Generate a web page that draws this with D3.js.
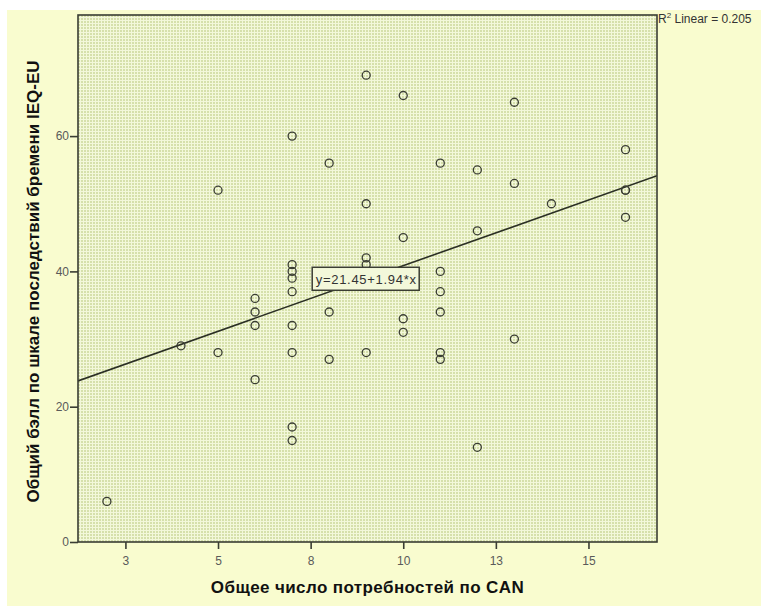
<!DOCTYPE html>
<html>
<head>
<meta charset="utf-8">
<script src="https://cdn.jsdelivr.net/npm/d3@7"></script>
<style>
  body { margin: 0; background: #fff; }
  svg { display: block; }
</style>
</head>
<body>
<svg id="chart" width="761" height="608"></svg>
<script>
// needs counts (CAN) and burden score (IEQ-EU)
const canTotal = [2, 4, 5, 5, 6, 6, 6, 6,
  7, 7, 7, 7, 7, 7, 7, 7, 7,
  8, 8, 8, 9, 9, 9, 9, 9,
  10, 10, 10, 10, 11, 11, 11, 11, 11, 11,
  12, 12, 12, 13, 13, 13, 14, 16, 16, 16, 16];
const ieqScore = [6, 29, 52, 28, 36, 34, 32, 24,
  60, 41, 40, 39, 37, 32, 28, 17, 15,
  56, 34, 27, 69, 50, 42, 41, 28,
  66, 45, 33, 31, 56, 40, 37, 34, 28, 27,
  55, 46, 14, 65, 53, 30, 50, 58, 52, 52, 48];

const xTickValues = [2.5, 5, 7.5, 10, 12.5, 15];
const xTickLabels = ['3', '5', '8', '10', '13', '15'];
const yTickValues = [0, 20, 40, 60];

const fitIntercept = 21.45;
const fitSlope = 1.94;
const rSquared = 0.205;

const xTitle = 'Общее число потребностей по CAN';
const yTitle = 'Общий бэлл по шкале последствий бремени IEQ-EU';

const font = 'Liberation Sans, Arial, sans-serif';

const svg = d3.select('#chart'),
      margin = { top: 15, right: 104, bottom: 66, left: 78 },
      width = +svg.attr('width') - margin.left - margin.right,
      height = +svg.attr('height') - margin.top - margin.bottom;

// page background
svg.append('rect')
  .attr('x', 7)
  .attr('y', 10)
  .attr('width', 754)
  .attr('height', 596)
  .attr('fill', '#f9fccf');

const defs = svg.append('defs');
const pattern = defs.append('pattern')
  .attr('id', 'dots')
  .attr('patternUnits', 'userSpaceOnUse')
  .attr('width', 3)
  .attr('height', 3);
pattern.append('rect')
  .attr('width', 3)
  .attr('height', 3)
  .attr('fill', '#f3f8da');
pattern.append('rect')
  .attr('width', 2)
  .attr('height', 2)
  .attr('fill', '#d6e0ab');

defs.append('clipPath')
  .attr('id', 'clip')
  .append('rect')
  .attr('width', width)
  .attr('height', height);

const x = d3.scaleLinear()
  .domain([1.22, 16.85])
  .range([0, width]);
const y = d3.scaleLinear()
  .domain([0, 77.9])
  .range([height, 0]);

const g = svg.append('g')
  .attr('transform', `translate(${margin.left}, ${margin.top})`);

g.append('rect')
  .attr('width', width)
  .attr('height', height)
  .attr('fill', 'url(#dots)');

// fit line
const fit = (v) => fitIntercept + fitSlope * v;
g.append('line')
  .attr('clip-path', 'url(#clip)')
  .attr('x1', x(x.domain()[0]))
  .attr('y1', y(fit(x.domain()[0])))
  .attr('x2', x(x.domain()[1]))
  .attr('y2', y(fit(x.domain()[1])))
  .attr('stroke', '#2b2f24')
  .attr('stroke-width', 1.6);

// points
g.append('g')
  .selectAll('circle')
  .data(canTotal.map((d, i) => [d, ieqScore[i]]))
  .enter().append('circle')
  .attr('cx', (d) => x(d[0]))
  .attr('cy', (d) => y(d[1]))
  .attr('r', 4)
  .attr('fill', 'none')
  .attr('stroke', '#3a3d33')
  .attr('stroke-width', 1.3);

// equation label on the line
const eqX = 9;
const eq = g.append('g')
  .attr('transform', `translate(${x(eqX)}, ${y(fit(eqX))})`);
eq.append('rect')
  .attr('x', -54)
  .attr('y', -11.5)
  .attr('width', 107)
  .attr('height', 23)
  .attr('fill', '#f3f8da')
  .attr('stroke', '#3a3d33')
  .attr('stroke-width', 1.5);
eq.append('text')
  .attr('x', 0)
  .attr('y', 5)
  .attr('text-anchor', 'middle')
  .attr('font-family', font)
  .attr('font-size', 13)
  .attr('letter-spacing', 0.7)
  .attr('fill', '#333')
  .text(`y=${fitIntercept}+${fitSlope}*x`);

// frame
g.append('rect')
  .attr('width', width)
  .attr('height', height)
  .attr('fill', 'none')
  .attr('stroke', '#3a3d33')
  .attr('stroke-width', 1.6);

// axes
const xAxis = g.append('g')
  .attr('transform', `translate(0, ${height})`)
  .call(d3.axisBottom(x)
    .tickValues(xTickValues)
    .tickFormat((d, i) => xTickLabels[i])
    .tickSize(7)
    .tickSizeOuter(0));
const yAxis = g.append('g')
  .call(d3.axisLeft(y)
    .tickValues(yTickValues)
    .tickSize(8)
    .tickSizeOuter(0));

[xAxis, yAxis].forEach((a) => {
  a.select('.domain').remove();
  a.selectAll('line')
    .attr('stroke', '#3a3d33')
    .attr('stroke-width', 1.6);
  a.selectAll('text')
    .attr('font-family', font)
    .attr('font-size', 12)
    .attr('fill', '#5a5a5a');
});
xAxis.selectAll('text').attr('dy', '1.05em');
yAxis.selectAll('text').attr('x', -9);

// titles
svg.append('text')
  .attr('x', margin.left + width / 2)
  .attr('y', 593)
  .attr('text-anchor', 'middle')
  .attr('font-family', font)
  .attr('font-weight', 'bold')
  .attr('font-size', 17)
  .attr('letter-spacing', 0.4)
  .attr('fill', '#111')
  .text(xTitle);

svg.append('text')
  .attr('transform', `translate(39, ${margin.top + height / 2 + 3}) rotate(-90)`)
  .attr('text-anchor', 'middle')
  .attr('font-family', font)
  .attr('font-weight', 'bold')
  .attr('font-size', 17)
  .attr('fill', '#111')
  .text(yTitle);

const r2 = svg.append('text')
  .attr('x', margin.left + width + 1)
  .attr('y', 23)
  .attr('font-family', font)
  .attr('font-size', 12)
  .attr('fill', '#333');
r2.append('tspan').text('R');
r2.append('tspan').attr('dy', -5).attr('font-size', 8).text('2');
r2.append('tspan').attr('dy', 5).text(' Linear = ' + rSquared);
</script>
</body>
</html>
